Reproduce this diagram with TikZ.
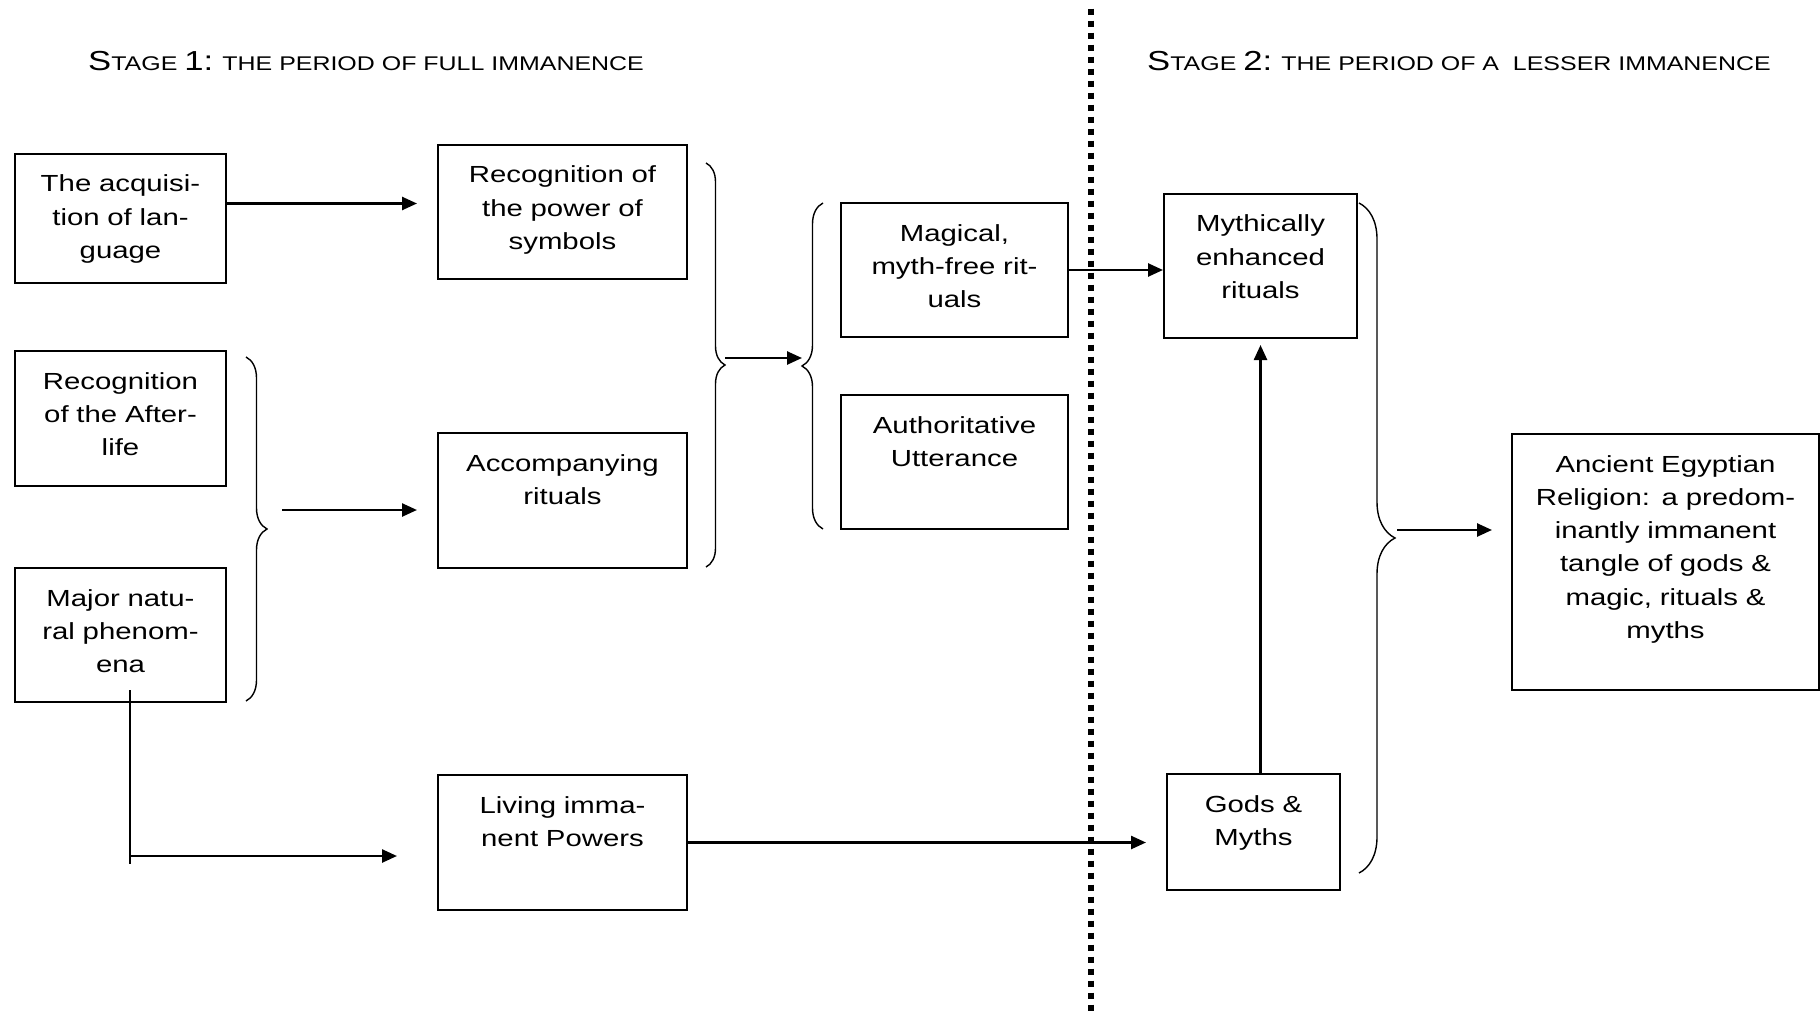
\documentclass[tikz,border=0pt]{standalone}
\usepackage{fontspec}
\setmainfont{Liberation Sans}[FakeStretch=1.26]
\usetikzlibrary{arrows.meta,calc,decorations.pathreplacing}

\newcommand\smc[1]{{\fontsize{19.8}{24}\selectfont #1}}

\tikzset{
	box/.style 2 args={draw, line width=2pt, inner sep=0pt, align=center,
		text width=#1, text height=38pt, text depth=#2},
	arr/.style={line width=2.5pt, -{Triangle[length=15pt,width=13pt]}},
	curly/.style={decorate, decoration={brace, amplitude=#1}, line width=1.4pt},
	divider/.style={line width=6pt, dash pattern=on 6pt off 6pt},
	stagetitle/.style={inner sep=0pt, anchor=base west, font=\fontsize{27.5}{33}\selectfont}
}

\begin{document}
\begin{tikzpicture}[x=1pt, y=-1pt, font=\fontsize{23.3}{33.3}\selectfont]
		%%%%% START %%%%%
		\useasboundingbox (0,0) rectangle (1820,1011);
		
		\node[stagetitle] (stage1) at (88,71) {S\smc{TAGE }1:\smc{ THE PERIOD OF FULL IMMANENCE}};
		\node[stagetitle] (stage2) at (1147,71) {S\smc{TAGE }2:\smc{ THE PERIOD OF A~~LESSER IMMANENCE}};
		
		\draw[divider] (1090.5,8.7) -- (1090.5,1011);
		
		% stage 1
		\node[box={211pt}{91pt}] (acq) at (120.5,218.5) {The acquisi-\\tion of lan-\\guage};
		\node[box={211pt}{97pt}] (after) at (120.5,418.5) {Recognition\\of the After-\\life};
		\node[box={211pt}{96pt}] (nature) at (120.5,635) {Major natu-\\ral phenom-\\ena};
		
		\node[box={249pt}{96pt}] (sym) at (562.5,212) {Recognition of\\the power of\\symbols};
		\node[box={249pt}{97pt}] (accomp) at (562.5,500.5) {Accompanying\\rituals};
		\node[box={249pt}{97pt}] (powers) at (562.5,842.5) {Living imma-\\nent Powers};
		
		\node[box={227pt}{96pt}] (magic) at (954.5,270) {Magical,\\myth-free rit-\\uals};
		\node[box={227pt}{96pt}] (utter) at (954.5,462) {Authoritative\\Utterance};
		
		% stage 2
		\node[box={193pt}{106pt}] (myth) at (1260.5,266) {Mythically\\enhanced\\rituals};
		\node[box={173pt}{78pt}] (gods) at (1253.5,832) {Gods \&\\Myths};
		\node[box={307pt}{218pt}] (egypt) at (1665.5,562) {Ancient Egyptian\\Religion: a predom-\\inantly immanent\\tangle of gods \&\\magic, rituals \&\\myths};
		
		% braces
		\draw[curly=21pt] (246,357) -- (246,701);
		\draw[curly=19pt] (706,163) -- (706,567);
		\draw[curly=21pt] (823,529) -- (823,203);
		\draw[curly=36pt] (1359,203) -- (1359,873);
		
		\coordinate (b1) at (282,510);
		\coordinate (b2) at (725,358);
		\coordinate (b3) at (802,358);
		\coordinate (b4) at (1397,530);
		\coordinate (drop) at (130,690);
		\coordinate (dropend) at (130,864);
		\coordinate (turn) at (130,856);
		
		% arrows
		\draw[arr, shorten >=20pt] ($(acq.east)+(0,-15)$) -- ($(acq.east -| sym.west)+(0,-15)$);
		\draw[arr, shorten >=20pt] (b1) -- (b1 -| accomp.west);
		\draw[arr] (b2) -- (b3);
		\draw[arr] (magic.east) -- (magic.east -| myth.west);
		\draw[arr, shorten >=19pt] (b4) -- (b4 -| egypt.west);
		\draw[arr, shorten >=6pt] (myth.south |- gods.north) -- (myth.south);
		\draw[arr, shorten >=20pt] (powers.east) -- (powers.east -| gods.west);
		
		\draw[line width=1.5pt] (drop) -- (dropend);
		\draw[arr, shorten >=40pt] (turn) -- (turn -| powers.west);
		
		%%%%% END %%%%%
\end{tikzpicture}
\end{document}
